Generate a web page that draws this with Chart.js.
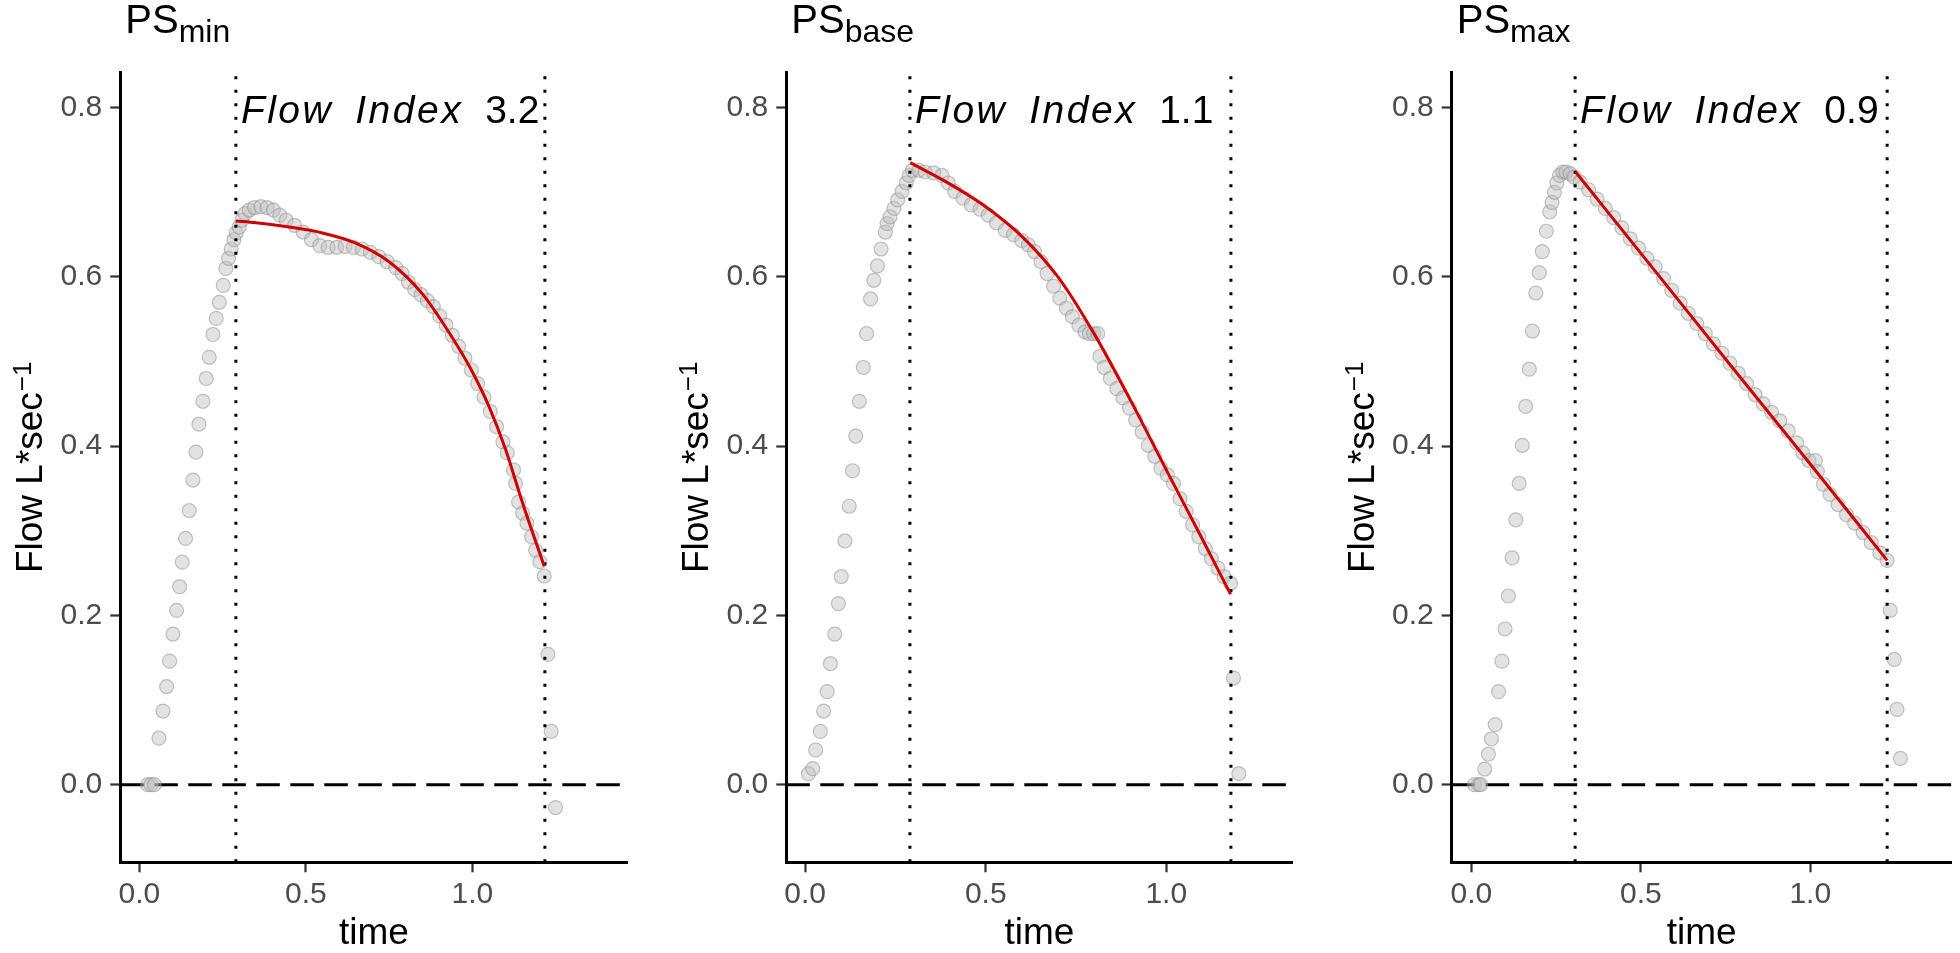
<!DOCTYPE html>
<html lang="en">
<head>
<meta charset="UTF-8">
<title>Flow Index panels</title>
<script src="https://cdn.jsdelivr.net/npm/chart.js"></script>
<style>
  html, body { margin: 0; padding: 0; background: #fff; }
  body { width: 1960px; height: 953px; position: relative; overflow: hidden; }
  canvas { position: absolute; top: 0; }
</style>
</head>
<body>
<canvas id="c1" width="655" height="953" style="left:0px"></canvas>
<canvas id="c2" width="655" height="953" style="left:655px"></canvas>
<canvas id="c3" width="650" height="953" style="left:1310px"></canvas>

<script>
// ---- data ----
const yTicks = [0, 0.2, 0.4, 0.6, 0.8];
const xTicks = [0, 0.5, 1.0];

// PS min
const minTime = [0.025,0.035,0.045,0.059,0.071,0.082,0.091,0.101,0.112,0.121,0.129,0.139,0.150,0.161,0.170,0.179,0.191,0.201,0.210,0.221,0.231,0.240,0.252,0.260,0.268,0.276,0.284,0.291,0.300,0.308,0.318,0.330,0.346,0.365,0.384,0.403,0.422,0.441,0.466,0.492,0.517,0.542,0.567,0.593,0.618,0.643,0.669,0.694,0.719,0.744,0.770,0.789,0.808,0.827,0.846,0.865,0.883,0.902,0.921,0.940,0.959,0.978,0.997,1.016,1.035,1.054,1.073,1.092,1.105,1.124,1.130,1.139,1.151,1.164,1.178,1.190,1.203,1.216,1.227,1.237,1.250];
const minFlow = [0,0,0,0.055,0.087,0.116,0.146,0.178,0.206,0.234,0.263,0.291,0.324,0.360,0.393,0.426,0.453,0.480,0.505,0.532,0.551,0.570,0.590,0.610,0.622,0.633,0.644,0.652,0.659,0.667,0.675,0.679,0.682,0.683,0.682,0.679,0.673,0.667,0.661,0.653,0.644,0.637,0.635,0.635,0.636,0.635,0.633,0.629,0.624,0.618,0.611,0.604,0.594,0.585,0.579,0.572,0.565,0.554,0.543,0.531,0.518,0.504,0.490,0.474,0.458,0.441,0.423,0.405,0.392,0.372,0.356,0.334,0.321,0.309,0.293,0.277,0.2635,0.2466,0.154,0.063,-0.027];
const minFitTime = [0.29,0.35,0.45,0.55,0.65,0.75,0.85,0.95,1.0,1.05,1.1,1.15,1.216];
const minFitFlow = [0.666,0.664,0.659,0.652,0.640,0.618,0.580,0.522,0.488,0.447,0.396,0.334,0.258];

// PS base
const baseTime = [0.009,0.021,0.029,0.042,0.051,0.061,0.070,0.082,0.092,0.100,0.110,0.122,0.131,0.140,0.150,0.161,0.170,0.181,0.190,0.200,0.210,0.222,0.227,0.235,0.246,0.256,0.268,0.280,0.288,0.297,0.315,0.332,0.356,0.379,0.396,0.414,0.437,0.460,0.484,0.507,0.530,0.554,0.577,0.600,0.618,0.635,0.653,0.670,0.688,0.705,0.723,0.740,0.758,0.775,0.787,0.799,0.810,0.816,0.828,0.845,0.863,0.880,0.898,0.915,0.933,0.950,0.968,0.985,1.003,1.020,1.038,1.055,1.073,1.090,1.108,1.125,1.143,1.160,1.178,1.186,1.201];
const baseFlow = [0.013,0.019,0.041,0.063,0.087,0.110,0.143,0.178,0.214,0.246,0.288,0.329,0.371,0.412,0.453,0.493,0.533,0.574,0.596,0.613,0.633,0.653,0.663,0.671,0.681,0.691,0.701,0.711,0.720,0.726,0.726,0.724,0.723,0.720,0.711,0.701,0.693,0.685,0.680,0.673,0.664,0.655,0.650,0.643,0.638,0.630,0.618,0.604,0.589,0.575,0.563,0.553,0.543,0.535,0.533,0.533,0.533,0.506,0.493,0.480,0.468,0.457,0.445,0.431,0.417,0.401,0.388,0.374,0.366,0.356,0.338,0.323,0.307,0.293,0.279,0.267,0.256,0.246,0.238,0.126,0.013];
const baseFitTime = [0.291,0.4,0.5,0.6,0.7,0.8,0.9,1.0,1.1,1.178];
const baseFitFlow = [0.735,0.710,0.683,0.648,0.600,0.533,0.455,0.372,0.290,0.225];

// PS max
const maxTime = [0.009,0.021,0.027,0.039,0.050,0.059,0.070,0.080,0.090,0.099,0.109,0.120,0.131,0.141,0.150,0.160,0.171,0.180,0.190,0.200,0.209,0.221,0.231,0.238,0.245,0.252,0.260,0.270,0.279,0.291,0.303,0.321,0.346,0.371,0.395,0.420,0.444,0.469,0.493,0.518,0.542,0.567,0.591,0.616,0.640,0.665,0.690,0.714,0.739,0.763,0.788,0.812,0.837,0.861,0.886,0.910,0.935,0.960,0.978,0.996,1.015,1.021,1.039,1.058,1.082,1.107,1.131,1.156,1.180,1.205,1.227,1.236,1.248,1.256,1.266];
const maxFlow = [0,0,0,0.0185,0.036,0.054,0.071,0.110,0.146,0.184,0.223,0.268,0.313,0.356,0.401,0.447,0.491,0.536,0.581,0.605,0.630,0.654,0.677,0.688,0.700,0.711,0.720,0.724,0.724,0.722,0.718,0.712,0.703,0.692,0.681,0.670,0.658,0.645,0.634,0.622,0.612,0.598,0.584,0.569,0.557,0.545,0.533,0.521,0.510,0.498,0.486,0.474,0.461,0.450,0.440,0.430,0.418,0.404,0.392,0.383,0.383,0.370,0.355,0.343,0.331,0.319,0.309,0.298,0.286,0.274,0.265,0.206,0.148,0.089,0.031];
const maxFitTime = [0.3075,0.55,0.77,1.0,1.227];
const maxFitFlow = [0.724,0.603,0.493,0.379,0.265];

const subs = ['min', 'base', 'max'];
const flowIndex = ['3.2', '1.1', '0.9'];
const windowStart = [0.29, 0.29, 0.306];
const windowEnd = [1.218, 1.179, 1.227];

// ---- layout ----
const yMin = -0.0917, yMax = 0.8418;
const FONT = '"Liberation Sans", Arial, sans-serif';

const panels = [
  { canvas: 'c1', time: minTime, flow: minFlow, fitT: minFitTime, fitF: minFitFlow, xMin: -0.0571, xMax: 1.4667, yWidth: 120.3, padRight: 27.3 },
  { canvas: 'c2', time: baseTime, flow: baseFlow, fitT: baseFitTime, fitF: baseFitFlow, xMin: -0.0523, xMax: 1.3498, yWidth: 131.3, padRight: 17.4 },
  { canvas: 'c3', time: maxTime, flow: maxFlow, fitT: maxFitTime, fitF: maxFitFlow, xMin: -0.0583, xMax: 1.4178, yWidth: 141.7, padRight: 2 }
];

// titles, y-axis title and the flow index label
const panelText = {
  id: 'panelText',
  afterDraw(chart, args, opts) {
    const { ctx, chartArea: a } = chart;
    const xs = chart.scales.x, ys = chart.scales.y;
    ctx.save();
    ctx.fillStyle = '#000';
    ctx.textAlign = 'left';
    ctx.textBaseline = 'alphabetic';

    ctx.font = '40px ' + FONT;
    ctx.fillText('PS', a.left + 5, 33);
    const psW = ctx.measureText('PS').width;
    ctx.font = '32px ' + FONT;
    ctx.fillText(opts.sub, a.left + 5 + psW, 42);

    let tx = xs.getPixelForValue(opts.start) + 5;
    const ty = ys.getPixelForValue(0.782);
    ctx.font = 'italic 39px ' + FONT;
    ctx.letterSpacing = '2.5px';
    ['Flow', 'Index'].forEach(w => {
      ctx.fillText(w, tx, ty);
      tx += ctx.measureText(w).width + 22;
    });
    ctx.letterSpacing = '0px';
    ctx.font = '39px ' + FONT;
    ctx.fillText(opts.index, tx, ty);

    ctx.translate(a.left - 78.2, (a.top + a.bottom) / 2);
    ctx.rotate(-Math.PI / 2);
    const main = 'Flow L*sec', sup = '\u22121';
    ctx.font = '37px ' + FONT;
    const mW = ctx.measureText(main).width;
    ctx.font = '26px ' + FONT;
    const sW = ctx.measureText(sup).width;
    const start = -(mW + 1 + sW) / 2;
    ctx.font = '37px ' + FONT;
    ctx.fillText(main, start, 0);
    ctx.font = '26px ' + FONT;
    ctx.fillText(sup, start + mW + 1, -11);
    ctx.restore();
  }
};

panels.forEach((p, i) => {
  const points = p.time.map((t, k) => ({ x: t, y: p.flow[k] }));
  const fit = p.fitT.map((t, k) => ({ x: t, y: p.fitF[k] }));
  const vline = v => [{ x: v, y: yMin }, { x: v, y: yMax }];

  new Chart(document.getElementById(p.canvas), {
    type: 'scatter',
    data: {
      datasets: [
        { data: fit, showLine: true, borderColor: '#d00000', borderWidth: 3, pointRadius: 0, cubicInterpolationMode: 'monotone', order: 0 },
        { data: vline(windowStart[i]), showLine: true, borderColor: '#000', borderWidth: 3, borderDash: [3, 10.5], pointRadius: 0, order: 1 },
        { data: vline(windowEnd[i]), showLine: true, borderColor: '#000', borderWidth: 3, borderDash: [3, 10.5], pointRadius: 0, order: 1 },
        { data: points, showLine: false, pointRadius: 7, pointBackgroundColor: 'rgba(190,190,190,0.45)', pointBorderColor: 'rgba(140,140,140,0.5)', pointBorderWidth: 1.2, order: 2 },
        { data: [{ x: p.xMin, y: 0 }, { x: p.xMax, y: 0 }], showLine: true, borderColor: '#000', borderWidth: 3, borderDash: [23.5, 10.5], pointRadius: 0, order: 3 }
      ]
    },
    options: {
      responsive: false,
      animation: false,
      events: [],
      layout: { padding: { left: 0, right: p.padRight, top: 72.3, bottom: 0 } },
      plugins: {
        legend: { display: false },
        tooltip: { enabled: false },
        panelText: { sub: subs[i], index: flowIndex[i], start: windowStart[i] }
      },
      scales: {
        x: {
          type: 'linear',
          min: p.xMin,
          max: p.xMax,
          afterBuildTicks: s => { s.ticks = xTicks.map(v => ({ value: v })); },
          afterFit: s => { s.height = 90.7; },
          ticks: { callback: v => v.toFixed(1), color: '#4d4d4d', font: { family: FONT, size: 30, lineHeight: 1.2 }, padding: 4, autoSkip: false, maxRotation: 0 },
          grid: { drawOnChartArea: false, drawTicks: true, tickLength: 10, tickColor: '#333', tickWidth: 2.2 },
          border: { display: true, color: '#000', width: 3 },
          title: { display: true, text: 'time', color: '#000', font: { family: FONT, size: 37, lineHeight: 1 }, padding: { top: 0, bottom: 0.6 } }
        },
        y: {
          type: 'linear',
          min: yMin,
          max: yMax,
          afterBuildTicks: s => { s.ticks = yTicks.map(v => ({ value: v })); },
          afterFit: s => { s.width = p.yWidth; },
          ticks: { callback: v => v.toFixed(1), color: '#4d4d4d', font: { family: FONT, size: 30 }, padding: 8, autoSkip: false },
          grid: { drawOnChartArea: false, drawTicks: true, tickLength: 10, tickColor: '#333', tickWidth: 2.2 },
          border: { display: true, color: '#000', width: 3 }
        }
      }
    },
    plugins: [panelText]
  });
});
</script>
</body>
</html>
